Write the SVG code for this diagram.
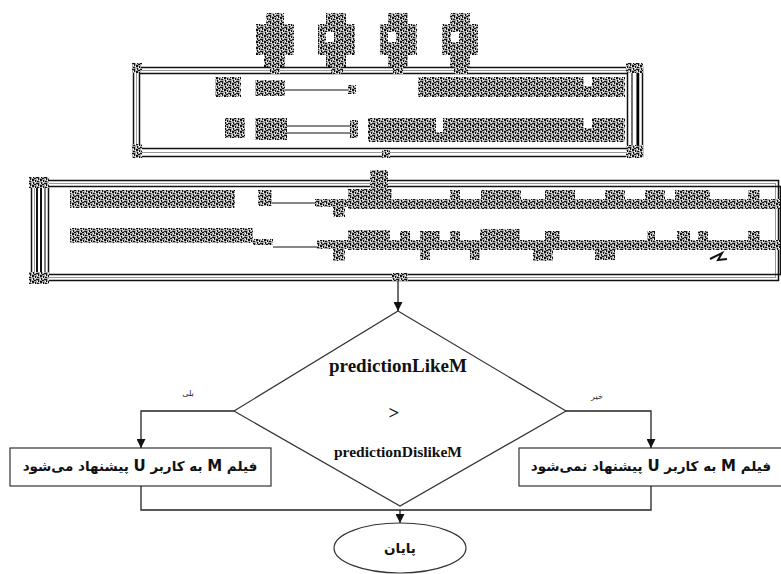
<svg xmlns="http://www.w3.org/2000/svg" width="781" height="574" viewBox="0 0 781 574">
<style>
.ln{stroke:#222;stroke-width:1.3;fill:none}
.shape{stroke:#333;stroke-width:1.2;fill:#fff}
.nz{fill:url(#nz)}
.fa{font-family:"DejaVu Sans",sans-serif;font-size:13.5px;font-weight:bold;fill:#111}
.en{font-family:"Liberation Serif",serif;font-weight:bold;fill:#111;text-anchor:middle}
.lbl{font-family:"DejaVu Sans",sans-serif;font-size:8px;fill:#222;text-anchor:middle}
.fr1{fill:none;stroke:#111;stroke-width:1.5}
.fr2{fill:none;stroke:#999;stroke-width:1}
.dl{stroke:#111;stroke-width:1.2}
</style>
<defs>
<pattern id="nz" width="8" height="6" patternUnits="userSpaceOnUse">
<rect width="8" height="6" fill="#aaa"/>
<path d="M0 0h2v1h-2z M3 0h1v2h-1z M5 1h2v1h-2z M1 2h1v2h-1z M4 3h3v1h-3z M0 5h2v1h-2z M6 4h1v2h-1z M2 4h2v1h-2z" fill="#111"/>
<path d="M2 1h1v1h-1z M7 0h1v1h-1z M0 3h1v1h-1z M5 5h1v1h-1z M3 2h1v1h-1z" fill="#fff"/>
</pattern>
<marker id="ah" viewBox="0 0 10 10" refX="10" refY="5" markerWidth="9" markerHeight="9" orient="auto" markerUnits="userSpaceOnUse">
<path d="M0,0 L10,5 L0,10 z" fill="#111"/>
</marker>
</defs>

<g id="top-icons">
<path class="nz" d="M266 13h18v11h10v31h-9v13h-21v-13h-8v-31h10z"/>
<path class="nz" d="M326 13h20v11h9v31h-9v13h-20v-13h-8v-31h8z"/>
<rect x="326" y="32" width="8" height="10" fill="#fff"/>
<path class="nz" d="M388 13h20v11h9v31h-9v13h-20v-13h-8v-31h8z"/>
<rect x="388" y="32" width="8" height="10" fill="#fff"/>
<path class="nz" d="M450 13h20v11h8v31h-8v13h-20v-13h-8v-31h8z"/>
<rect x="451" y="32" width="8" height="10" fill="#fff"/>
</g>

<g id="box-input">
<rect x="133.5" y="67.5" width="509" height="89" fill="#fff" class="fr1"/>
<rect x="136.5" y="70.5" width="500" height="82" class="fr2"/>
<rect x="139.5" y="73.5" width="488" height="75" class="fr1"/>
<line x1="632" y1="70" x2="632" y2="153" class="dl"/>
<line x1="638" y1="68" x2="638" y2="156" stroke="#000" stroke-width="2.5"/>
<rect x="132" y="63" width="10" height="10" class="nz"/>
<rect x="132" y="144" width="10" height="14" class="nz"/>
<rect x="626" y="63" width="17" height="10" class="nz"/>
<rect x="626" y="145" width="17" height="13" class="nz"/>
<rect x="270" y="60" width="10" height="14" class="nz"/>
<rect x="331" y="60" width="12" height="14" class="nz"/>
<rect x="393" y="60" width="10" height="14" class="nz"/>
<rect x="454" y="60" width="14" height="14" class="nz"/>
<rect x="382" y="150" width="8" height="8" class="nz"/>
<rect x="215" y="77" width="26" height="20" class="nz"/>
<rect x="255" y="80" width="30" height="16" class="nz"/>
<line x1="285" y1="90" x2="350" y2="90" class="dl"/>
<rect x="348" y="85" width="8" height="9" class="nz"/>
<rect x="418" y="77" width="207" height="20" class="nz"/>
<rect x="584" y="77" width="8" height="9" fill="#fff"/>
<rect x="225" y="118" width="20" height="20" class="nz"/>
<rect x="255" y="118" width="32" height="22" class="nz"/>
<line x1="287" y1="126" x2="352" y2="126" class="dl"/>
<line x1="287" y1="133" x2="352" y2="133" class="dl"/>
<rect x="350" y="120" width="8" height="18" class="nz"/>
<rect x="368" y="118" width="257" height="24" class="nz"/>
<rect x="436" y="118" width="7" height="14" fill="#fff"/>
<rect x="584" y="118" width="8" height="10" fill="#fff"/>
</g>

<g id="box-process">
<rect x="31.5" y="180.5" width="747" height="100" fill="#fff" class="fr1"/>
<rect x="34.5" y="183.5" width="741" height="94" class="fr2"/>
<rect x="48.5" y="186.5" width="732" height="88" class="fr1"/>
<line x1="37" y1="182" x2="37" y2="279" stroke="#111" stroke-width="2"/>
<line x1="41" y1="182" x2="41" y2="279" stroke="#111" stroke-width="2"/>
<line x1="45" y1="182" x2="45" y2="279" stroke="#555" stroke-width="1.5"/>
<rect x="29" y="177" width="20" height="11" class="nz"/>
<rect x="29" y="272" width="20" height="12" class="nz"/>
<rect x="392" y="273" width="16" height="8" class="nz"/>
<rect x="70" y="190" width="165" height="18" class="nz"/>
<rect x="258" y="190" width="14" height="16" class="nz"/>
<line x1="272" y1="203" x2="318" y2="203" class="dl"/>
<rect x="315" y="199" width="33" height="8" class="nz"/>
<rect x="333" y="207" width="12" height="10" class="nz"/>
<rect x="348" y="199" width="432" height="10" class="nz"/>
<rect x="348" y="189" width="44" height="10" class="nz"/>
<rect x="370" y="170" width="18" height="20" class="nz"/>
<rect x="450" y="190" width="10" height="9" class="nz"/>
<rect x="481" y="190" width="40" height="9" class="nz"/>
<rect x="545" y="190" width="30" height="9" class="nz"/>
<rect x="605" y="190" width="20" height="9" class="nz"/>
<rect x="645" y="190" width="20" height="9" class="nz"/>
<rect x="675" y="190" width="35" height="9" class="nz"/>
<rect x="748" y="190" width="12" height="9" class="nz"/>
<rect x="70" y="228" width="183" height="15" class="nz"/>
<rect x="253" y="239" width="20" height="6" class="nz"/>
<line x1="273" y1="247" x2="317" y2="247" class="dl"/>
<rect x="317" y="240" width="31" height="9" class="nz"/>
<rect x="333" y="249" width="12" height="12" class="nz"/>
<rect x="348" y="240" width="432" height="10" class="nz"/>
<rect x="348" y="230" width="42" height="10" class="nz"/>
<rect x="400" y="231" width="10" height="9" class="nz"/>
<rect x="420" y="231" width="20" height="9" class="nz"/>
<rect x="450" y="231" width="10" height="9" class="nz"/>
<rect x="480" y="229" width="40" height="11" class="nz"/>
<rect x="545" y="231" width="15" height="9" class="nz"/>
<rect x="647" y="231" width="8" height="9" class="nz"/>
<rect x="677" y="231" width="13" height="9" class="nz"/>
<rect x="698" y="231" width="10" height="9" class="nz"/>
<rect x="748" y="231" width="12" height="9" class="nz"/>
<rect x="420" y="250" width="10" height="10" class="nz"/>
<rect x="470" y="250" width="10" height="10" class="nz"/>
<rect x="533" y="250" width="20" height="11" class="nz"/>
<rect x="595" y="250" width="20" height="10" class="nz"/>
<path d="M710 259 L722 253 L718 260 L727 259" stroke="#111" stroke-width="2" fill="none"/>
</g>

<g id="decision">
<polygon class="shape" points="398,311 566,411 400,506 234,411"/>
<text class="en" x="398" y="372" font-size="19">predictionLikeM</text>
<text class="en" x="394" y="419" font-size="19">&gt;</text>
<text class="en" x="398" y="457" font-size="15.5">predictionDislikeM</text>
</g>

<g id="yes-box">
<rect class="shape" x="10" y="448" width="261" height="38"/>
<text class="fa" x="140" y="471" direction="rtl" text-anchor="middle">فیلم <tspan font-size="15">M</tspan> به کاربر <tspan font-size="15">U</tspan> پیشنهاد می&#x200C;شود</text>
</g>

<g id="no-box">
<rect class="shape" x="519" y="448" width="270" height="38"/>
<text class="fa" x="651" y="471" direction="rtl" text-anchor="middle">فیلم <tspan font-size="15">M</tspan> به کاربر <tspan font-size="15">U</tspan> پیشنهاد نمی&#x200C;شود</text>
</g>

<g id="end">
<ellipse class="shape" cx="400" cy="548" rx="66" ry="25"/>
<text class="fa" x="400" y="553" text-anchor="middle" font-size="13">پایان</text>
</g>

<g id="connectors">
<line class="ln" x1="398" y1="281" x2="398" y2="311" marker-end="url(#ah)"/>
<polyline class="ln" points="234,411 141,411 141,448" marker-end="url(#ah)"/>
<polyline class="ln" points="566,411 651,411 651,448" marker-end="url(#ah)"/>
<polyline class="ln" points="141,486 141,510 651,510 651,486"/>
<line class="ln" x1="400" y1="510" x2="400" y2="523" marker-end="url(#ah)"/>
<text class="lbl" x="188" y="396">بلی</text>
<text class="lbl" x="597" y="399">خیر</text>
</g>
</svg>
